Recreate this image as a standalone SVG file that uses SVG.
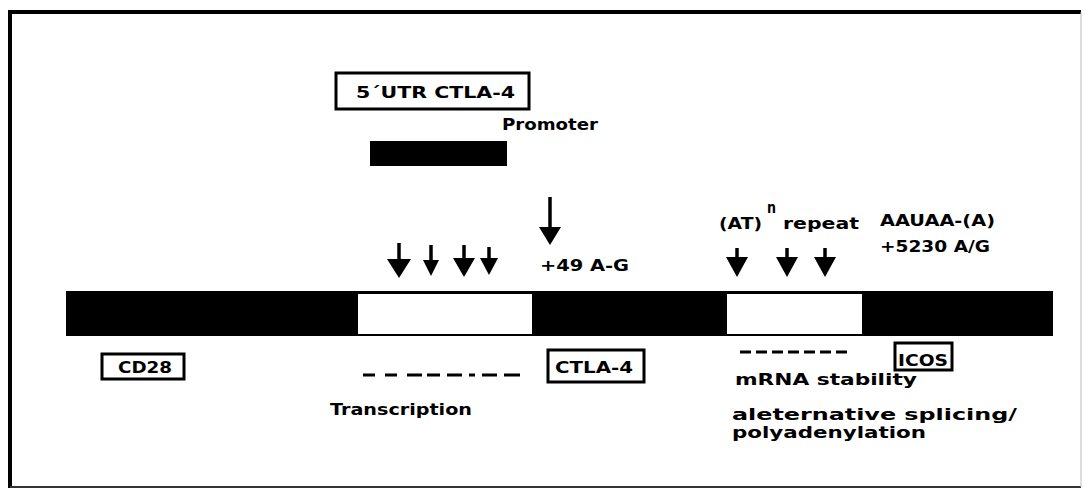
<svg xmlns="http://www.w3.org/2000/svg" width="1083" height="488" viewBox="0 0 1083 488">
<style>
  .t { font-family: "DejaVu Sans", "Liberation Sans", sans-serif; font-weight: bold; font-size: 16px; fill: #000; }
  .box { fill: #fff; stroke: #000; stroke-width: 3; }
  .shaft { stroke: #000; stroke-width: 3.5; fill: none; }
  .head { fill: #000; stroke: none; }
  .dash { stroke: #000; stroke-width: 3; fill: none; }
</style>
<rect x="0" y="0" width="1083" height="488" fill="#fff"/>
<g id="frame">
  <line x1="8" y1="12" x2="1081" y2="12" stroke="#000" stroke-width="4"/>
  <line x1="10" y1="10" x2="10" y2="488" stroke="#000" stroke-width="4"/>
  <line x1="10" y1="487" x2="1081" y2="487" stroke="#333" stroke-width="2"/>
  <line x1="1081" y1="12" x2="1081" y2="487" stroke="#bbb" stroke-width="1"/>
</g>
<g id="gene-bar">
  <rect x="66" y="291" width="987" height="45" fill="#000"/>
  <rect x="358" y="294" width="174" height="40" fill="#fff"/>
  <rect x="727" y="294" width="135" height="40" fill="#fff"/>
</g>
<g id="promoter">
  <rect x="370" y="141" width="137" height="25" fill="#000"/>
  <text class="t" x="502" y="130" textLength="96" lengthAdjust="spacingAndGlyphs">Promoter</text>
</g>
<g id="utr-box">
  <rect class="box" x="336" y="73" width="193" height="36"/>
  <text class="t" x="356" y="98" font-size="18" textLength="159" lengthAdjust="spacingAndGlyphs">5´UTR CTLA-4</text>
</g>
<g id="cd28">
  <rect class="box" x="102" y="354" width="82" height="25"/>
  <text class="t" x="118" y="373" textLength="54" lengthAdjust="spacingAndGlyphs">CD28</text>
</g>
<g id="ctla4">
  <rect class="box" x="548" y="350" width="96" height="32"/>
  <text class="t" x="555" y="373" font-size="17" textLength="78" lengthAdjust="spacingAndGlyphs">CTLA-4</text>
</g>
<g id="icos">
  <rect class="box" x="895" y="343" width="57" height="27"/>
  <text class="t" x="898" y="366" font-family="DejaVu Serif, serif" font-size="16" textLength="50" lengthAdjust="spacingAndGlyphs">ICOS</text>
</g>
<g id="labels">
  <text class="t" x="540" y="271" textLength="89" lengthAdjust="spacingAndGlyphs">+49 A-G</text>
  <text class="t" x="719" y="229" textLength="43" lengthAdjust="spacingAndGlyphs">(AT)</text>
  <text class="t" x="767" y="213" font-size="14" textLength="9" lengthAdjust="spacingAndGlyphs">n</text>
  <text class="t" x="783" y="229" textLength="76" lengthAdjust="spacingAndGlyphs">repeat</text>
  <text class="t" x="880" y="226" textLength="115" lengthAdjust="spacingAndGlyphs">AAUAA-(A)</text>
  <text class="t" x="880" y="252" textLength="110" lengthAdjust="spacingAndGlyphs">+5230 A/G</text>
  <text class="t" x="330" y="415" textLength="142" lengthAdjust="spacingAndGlyphs">Transcription</text>
  <text class="t" x="735" y="385" textLength="182" lengthAdjust="spacingAndGlyphs">mRNA stability</text>
  <text class="t" x="732" y="420" font-size="14" textLength="285" lengthAdjust="spacingAndGlyphs">aleternative splicing/</text>
  <text class="t" x="732" y="438" font-size="14" textLength="194" lengthAdjust="spacingAndGlyphs">polyadenylation</text>
</g>
<g id="connectors">
  <line class="shaft" x1="399" y1="243" x2="399" y2="262"/>
  <polygon class="head" points="387,259 411,259 399,278"/>
  <line class="shaft" x1="431" y1="245" x2="431" y2="262"/>
  <polygon class="head" points="423,260 439,260 431,276"/>
  <line class="shaft" x1="464" y1="245" x2="464" y2="262"/>
  <polygon class="head" points="453,258 475,258 464,277"/>
  <line class="shaft" x1="489" y1="247" x2="489" y2="260"/>
  <polygon class="head" points="480,258 498,258 489,275"/>
  <line class="shaft" x1="550" y1="197" x2="550" y2="230"/>
  <polygon class="head" points="539,227 561,227 550,245"/>
  <line class="shaft" x1="737" y1="248" x2="737" y2="260"/>
  <polygon class="head" points="726,257 748,257 737,277"/>
  <line class="shaft" x1="787" y1="248" x2="787" y2="260"/>
  <polygon class="head" points="776,257 798,257 787,277"/>
  <line class="shaft" x1="825" y1="248" x2="825" y2="260"/>
  <polygon class="head" points="814,257 836,257 825,277"/>
  <path class="dash" d="M363,375h12 M385,375h12 M407,375h15 M427,375h13 M447,375h15 M469,375h6 M482,375h15 M504,375h16"/>
  <line class="dash" x1="740" y1="352" x2="848" y2="352" stroke-dasharray="11 5"/>
</g>
</svg>
